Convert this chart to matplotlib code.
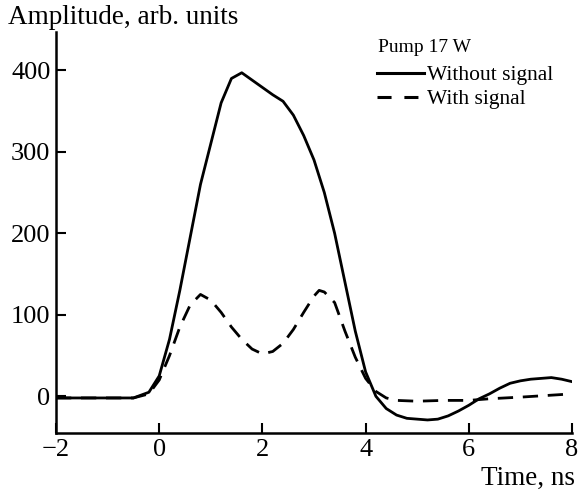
import matplotlib
matplotlib.use("Agg")
import matplotlib.pyplot as plt
from matplotlib.lines import Line2D

t_solid = [-2, -1.5, -1, -0.5, -0.2, 0, 0.2, 0.4, 0.6, 0.8, 1.0, 1.2, 1.4, 1.6, 1.8, 2.0, 2.2, 2.4,
           2.6, 2.8, 3.0, 3.2, 3.4, 3.6, 3.8, 4.0, 4.2, 4.4, 4.6, 4.8, 5.0, 5.2, 5.4, 5.6, 5.8,
           6.0, 6.2, 6.4, 6.6, 6.8, 7.0, 7.2, 7.4, 7.6, 7.8, 8.0]
amp_without = [-2, -2, -2, -2, 5, 25, 70, 130, 195, 260, 310, 360, 390, 397, 388, 379, 370, 362,
               345, 320, 290, 250, 200, 140, 80, 30, 0, -15, -23, -27, -28, -29, -28, -24, -18,
               -11, -3, 3, 10, 16, 19, 21, 22, 23, 21, 18]

t_dashed = [-2, -1, -0.5, -0.2, 0, 0.2, 0.4, 0.6, 0.8, 1.0, 1.2, 1.4, 1.6, 1.8, 2.0, 2.2, 2.4,
            2.6, 2.8, 3.0, 3.1, 3.2, 3.4, 3.6, 3.8, 4.0, 4.2, 4.4, 4.6, 5.0, 5.5, 6.0, 6.4,
            7.0, 7.5, 8.0]
amp_with = [-2, -2, -2, 3, 20, 50, 85, 112, 125, 118, 103, 85, 70, 58, 52, 55, 65,
            82, 103, 123, 130, 128, 115, 80, 48, 22, 6, -2, -5, -6, -5, -5, -3,
            -1, 1, 3]

xticks = [-2, 0, 2, 4, 6, 8]
xticklabels = ["\u22122", "0", "2", "4", "6", "8"]
yticks = [0, 100, 200, 300, 400]
labels = ['Without signal', 'With signal']

plt.rcParams['font.family'] = ['Liberation Serif', 'DejaVu Serif']

fig = plt.figure(figsize=(5.8, 4.95), dpi=100)
ax = fig.add_axes([56/580, 62/495, (572-56)/580, (433-32)/495])

ax.plot(t_solid, amp_without, color='black', lw=2.0)
ax.plot(t_dashed, amp_with, color='black', lw=2.0, dashes=(5.5, 3.5))

ax.set_xlim(-2, 8)
ax.set_ylim(-45, 447)
ax.set_xticks(xticks)
ax.set_xticklabels(xticklabels)
ax.set_yticks(yticks)
ax.tick_params(direction='in', length=7, width=1.5, labelsize=19, pad=4)
for s in ['top', 'right']:
    ax.spines[s].set_visible(False)
for s in ['left', 'bottom']:
    ax.spines[s].set_linewidth(1.8)

fig.text(8/580, 1 - 18/495, "Amplitude, arb. units", fontsize=19.5, ha='left', va='center')
fig.text(575/580, 1 - 478/495, "Time, ns", fontsize=19.5, ha='right', va='center')

fig.text(378/580, 1 - 48/495, "Pump 17 W", fontsize=14, ha='left', va='center')
proxies = [Line2D([], [], color='black', lw=2.2),
           Line2D([], [], color='black', lw=2.2, dashes=(4.6, 4.2))]
leg = ax.legend(proxies, labels, loc='upper left',
                bbox_to_anchor=((377-56)/516, (433-65)/401), frameon=False,
                fontsize=15.5, handlelength=2.2, handletextpad=0.1, labelspacing=0.2,
                borderaxespad=0, borderpad=0)

fig.savefig('out.png', dpi=100)
